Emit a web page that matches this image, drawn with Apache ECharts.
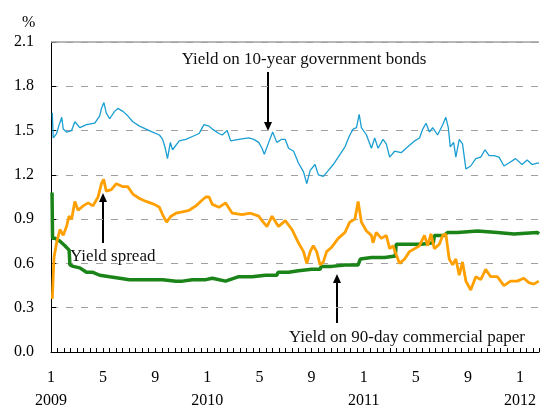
<!DOCTYPE html>
<html lang="en">
<head>
    <meta charset="UTF-8">
    <title>Yields 2009-2012</title>
    <script src="https://cdn.jsdelivr.net/npm/echarts@6/dist/echarts.min.js"></script>
    <style>
        html, body { margin: 0; padding: 0; background: #fff; }
        #main { width: 542px; height: 412px; }
    </style>
</head>
<body>
<div id="main"></div>
<script type="text/javascript">
    // x = months since Jan 2009 (0 = Jan 2009), y = %
    var yTicks = [0, 0.3, 0.6, 0.9, 1.2, 1.5, 1.8, 2.1];
    var startYear = 2009;

    // Yield on 10-year government bonds
    var bond10y = [[0.10,1.62],[0.17,1.45],[0.43,1.48],[0.56,1.52],[0.82,1.59],[0.94,1.51],[1.19,1.49],[1.58,1.50],
        [1.83,1.56],[2.21,1.52],[2.72,1.54],[3.36,1.55],[3.74,1.60],[3.87,1.65],[4.06,1.69],[4.24,1.62],[4.50,1.58],
        [4.88,1.63],[5.13,1.65],[5.52,1.63],[5.89,1.60],[6.28,1.56],[6.79,1.53],[7.30,1.51],[7.80,1.49],[8.32,1.47],
        [8.57,1.44],[8.77,1.38],[8.94,1.31],[9.16,1.42],[9.33,1.37],[9.84,1.43],[10.35,1.44],[10.85,1.46],[11.37,1.48],
        [11.61,1.52],[11.74,1.54],[11.88,1.54],[12.13,1.53],[12.38,1.51],[12.89,1.48],[13.14,1.47],[13.52,1.50],
        [13.79,1.43],[14.41,1.44],[15.18,1.45],[15.56,1.44],[15.94,1.42],[16.19,1.38],[16.37,1.34],[16.71,1.42],
        [17.01,1.49],[17.33,1.42],[17.68,1.44],[17.98,1.44],[18.23,1.38],[18.62,1.36],[18.99,1.28],[19.38,1.22],
        [19.63,1.14],[19.89,1.23],[20.26,1.27],[20.52,1.20],[20.90,1.19],[21.29,1.23],[21.66,1.27],[22.04,1.32],
        [22.56,1.39],[22.93,1.47],[23.19,1.51],[23.44,1.52],[23.65,1.61],[23.82,1.52],[24.21,1.47],[24.59,1.38],
        [24.84,1.45],[25.10,1.38],[25.48,1.44],[25.73,1.41],[25.99,1.32],[26.37,1.36],[26.87,1.35],[27.38,1.39],
        [27.90,1.43],[28.28,1.45],[28.53,1.51],[28.78,1.55],[29.04,1.49],[29.29,1.52],[29.67,1.47],[30.06,1.54],
        [30.30,1.59],[30.49,1.52],[30.64,1.39],[30.90,1.42],[31.07,1.32],[31.33,1.44],[31.58,1.41],[31.84,1.24],
        [32.21,1.26],[32.60,1.31],[32.98,1.32],[33.31,1.37],[33.62,1.33],[34.00,1.33],[34.38,1.32],[34.76,1.26],
        [35.14,1.28],[35.65,1.31],[36.15,1.27],[36.54,1.30],[36.92,1.27],[37.31,1.28],[37.45,1.28]];

    // Yield spread
    var spread = [[0.10,0.36],[0.23,0.64],[0.43,0.74],[0.69,0.83],[0.94,0.79],[1.19,0.85],[1.39,0.92],[1.58,0.90],
        [1.83,1.02],[2.08,0.96],[2.47,0.99],[2.85,1.01],[3.22,0.99],[3.61,1.05],[3.87,1.14],[4.04,1.17],[4.24,1.09],
        [4.63,1.10],[5.01,1.14],[5.52,1.12],[5.89,1.12],[6.28,1.07],[6.79,1.04],[7.30,1.02],[7.93,1.00],[8.32,0.98],
        [8.62,0.92],[8.87,0.88],[9.21,0.92],[9.59,0.94],[10.09,0.95],[10.60,0.96],[11.12,0.99],[11.61,1.03],
        [11.88,1.05],[12.13,1.05],[12.38,1.00],[12.89,0.98],[13.40,1.01],[13.91,0.94],[14.66,0.93],[15.31,0.94],
        [15.94,0.92],[16.19,0.89],[16.57,0.85],[16.96,0.92],[17.46,0.85],[17.98,0.89],[18.49,0.83],[18.99,0.74],
        [19.38,0.68],[19.63,0.60],[19.89,0.68],[20.13,0.72],[20.39,0.68],[20.65,0.59],[20.90,0.61],[21.15,0.68],
        [21.54,0.71],[22.04,0.77],[22.56,0.81],[22.93,0.88],[23.32,0.90],[23.57,1.02],[23.82,0.88],[24.21,0.82],
        [24.59,0.79],[24.71,0.74],[24.96,0.81],[25.35,0.77],[25.73,0.79],[25.99,0.70],[26.24,0.72],[26.49,0.66],
        [26.75,0.60],[27.14,0.63],[27.51,0.68],[27.90,0.70],[28.28,0.72],[28.66,0.79],[28.91,0.72],[29.16,0.80],
        [29.42,0.70],[29.80,0.73],[30.06,0.79],[30.30,0.80],[30.56,0.63],[30.82,0.59],[31.07,0.63],[31.33,0.52],
        [31.58,0.61],[31.84,0.48],[32.21,0.42],[32.60,0.51],[32.98,0.49],[33.36,0.56],[33.74,0.51],[34.25,0.51],
        [34.76,0.45],[35.27,0.48],[35.78,0.48],[36.28,0.50],[36.67,0.47],[37.05,0.46],[37.43,0.48]];

    // Yield on 90-day commercial paper
    var cp90 = [[0.08,1.08],[0.12,0.77],[0.30,0.77],[0.69,0.75],[1.07,0.72],[1.39,0.69],[1.45,0.59],[1.70,0.58],
        [2.21,0.57],[2.72,0.54],[3.22,0.54],[3.74,0.52],[4.50,0.51],[5.27,0.50],[6.02,0.49],[6.79,0.49],[7.55,0.49],
        [8.57,0.49],[9.59,0.48],[10.09,0.48],[10.85,0.49],[11.88,0.49],[12.38,0.50],[13.40,0.48],[14.41,0.51],
        [15.43,0.51],[16.45,0.52],[17.33,0.52],[17.42,0.54],[18.23,0.54],[18.99,0.55],[20.01,0.56],[20.65,0.56],
        [20.74,0.58],[21.54,0.58],[22.56,0.59],[23.57,0.59],[23.74,0.63],[24.59,0.64],[25.61,0.64],[26.42,0.65],
        [26.49,0.73],[27.38,0.73],[28.40,0.73],[29.34,0.74],[29.42,0.79],[30.18,0.79],[30.43,0.81],[31.20,0.81],
        [32.73,0.82],[34.25,0.81],[35.52,0.80],[37.31,0.81],[37.45,0.80]];

    var serif = '"Liberation Serif", "DejaVu Serif", serif';

    var myChart = echarts.init(document.getElementById('main'));

    function arrow(x, y1, y2) {
        // line from y1 to the tip at y2, with a filled head
        var dir = y2 > y1 ? 1 : -1;
        return [
            { type: 'line', shape: { x1: x, y1: y1, x2: x, y2: y2 - dir * 6 }, style: { stroke: '#000', lineWidth: 2 } },
            { type: 'polygon', shape: { points: [[x - 4, y2 - dir * 9], [x + 4, y2 - dir * 9], [x, y2]] }, style: { fill: '#000' } }
        ];
    }

    var graphics = [
        { type: 'text', left: 22, top: 15, style: { text: '%', font: '16px ' + serif, fill: '#000' } },
        { type: 'text', x: 304, y: 60, style: { text: 'Yield on 10-year government bonds', font: '17px ' + serif, fill: '#111', align: 'center', verticalAlign: 'middle' } },
        { type: 'text', x: 70, y: 257, style: { text: 'Yield spread', font: '17px ' + serif, fill: '#111', verticalAlign: 'middle' } },
        { type: 'text', x: 289, y: 338, style: { text: 'Yield on 90-day commercial paper', font: '17px ' + serif, fill: '#111', verticalAlign: 'middle' } }
    ].concat(arrow(268, 72, 131), arrow(103, 243, 193), arrow(337, 323, 274));

    var option = {
        animation: false,
        backgroundColor: '#fff',
        grid: { left: 51, right: 0, top: 42, bottom: 53 },
        xAxis: {
            type: 'value',
            min: 0,
            max: 37.45,
            interval: 4,
            axisLine: { lineStyle: { color: '#000', width: 1 } },
            axisTick: { inside: true, length: 4, lineStyle: { color: '#000' } },
            minorTick: { show: true, splitNumber: 8, length: 4, lineStyle: { color: '#000' } },
            splitLine: { show: false },
            axisLabel: {
                margin: 14,
                lineHeight: 23,
                fontFamily: serif,
                fontSize: 16,
                color: '#000',
                formatter: function (v) {
                    var r = Math.round(v);
                    if (Math.abs(v - r) > 1e-6 || r % 4 !== 0) return '';
                    var m = r % 12 + 1;
                    return m === 1 ? m + '\n' + (startYear + r / 12) : '' + m;
                }
            }
        },
        yAxis: {
            type: 'value',
            min: yTicks[0],
            max: yTicks[yTicks.length - 1],
            interval: 0.3,
            axisLine: { show: true, lineStyle: { color: '#000', width: 1 } },
            axisTick: { show: true, inside: true, length: 5, lineStyle: { color: '#000' } },
            splitLine: { lineStyle: { color: '#a0a0a0', width: 1, type: [7, 8] } },
            axisLabel: {
                margin: 17,
                fontFamily: serif,
                fontSize: 16,
                color: '#000',
                formatter: function (v) { return v.toFixed(1); }
            }
        },
        series: [
            {
                name: 'Yield on 90-day commercial paper',
                type: 'line',
                data: cp90,
                showSymbol: false,
                lineStyle: { color: '#1a8418', width: 3.5 },
                z: 3,
                // solid top border at 2.1
                markLine: {
                    silent: true,
                    symbol: ['none', 'none'],
                    label: { show: false },
                    lineStyle: { color: '#a0a0a0', type: 'solid', width: 1.5 },
                    data: [{ yAxis: 2.1 }]
                }
            },
            {
                name: 'Yield spread',
                type: 'line',
                data: spread,
                showSymbol: false,
                lineStyle: { color: '#ffa000', width: 2.8 },
                z: 4
            },
            {
                name: 'Yield on 10-year government bonds',
                type: 'line',
                data: bond10y,
                showSymbol: false,
                lineStyle: { color: '#1a9ed2', width: 1.3 },
                z: 5
            }
        ],
        graphic: graphics
    };
    myChart.setOption(option);
</script>
</body>
</html>
